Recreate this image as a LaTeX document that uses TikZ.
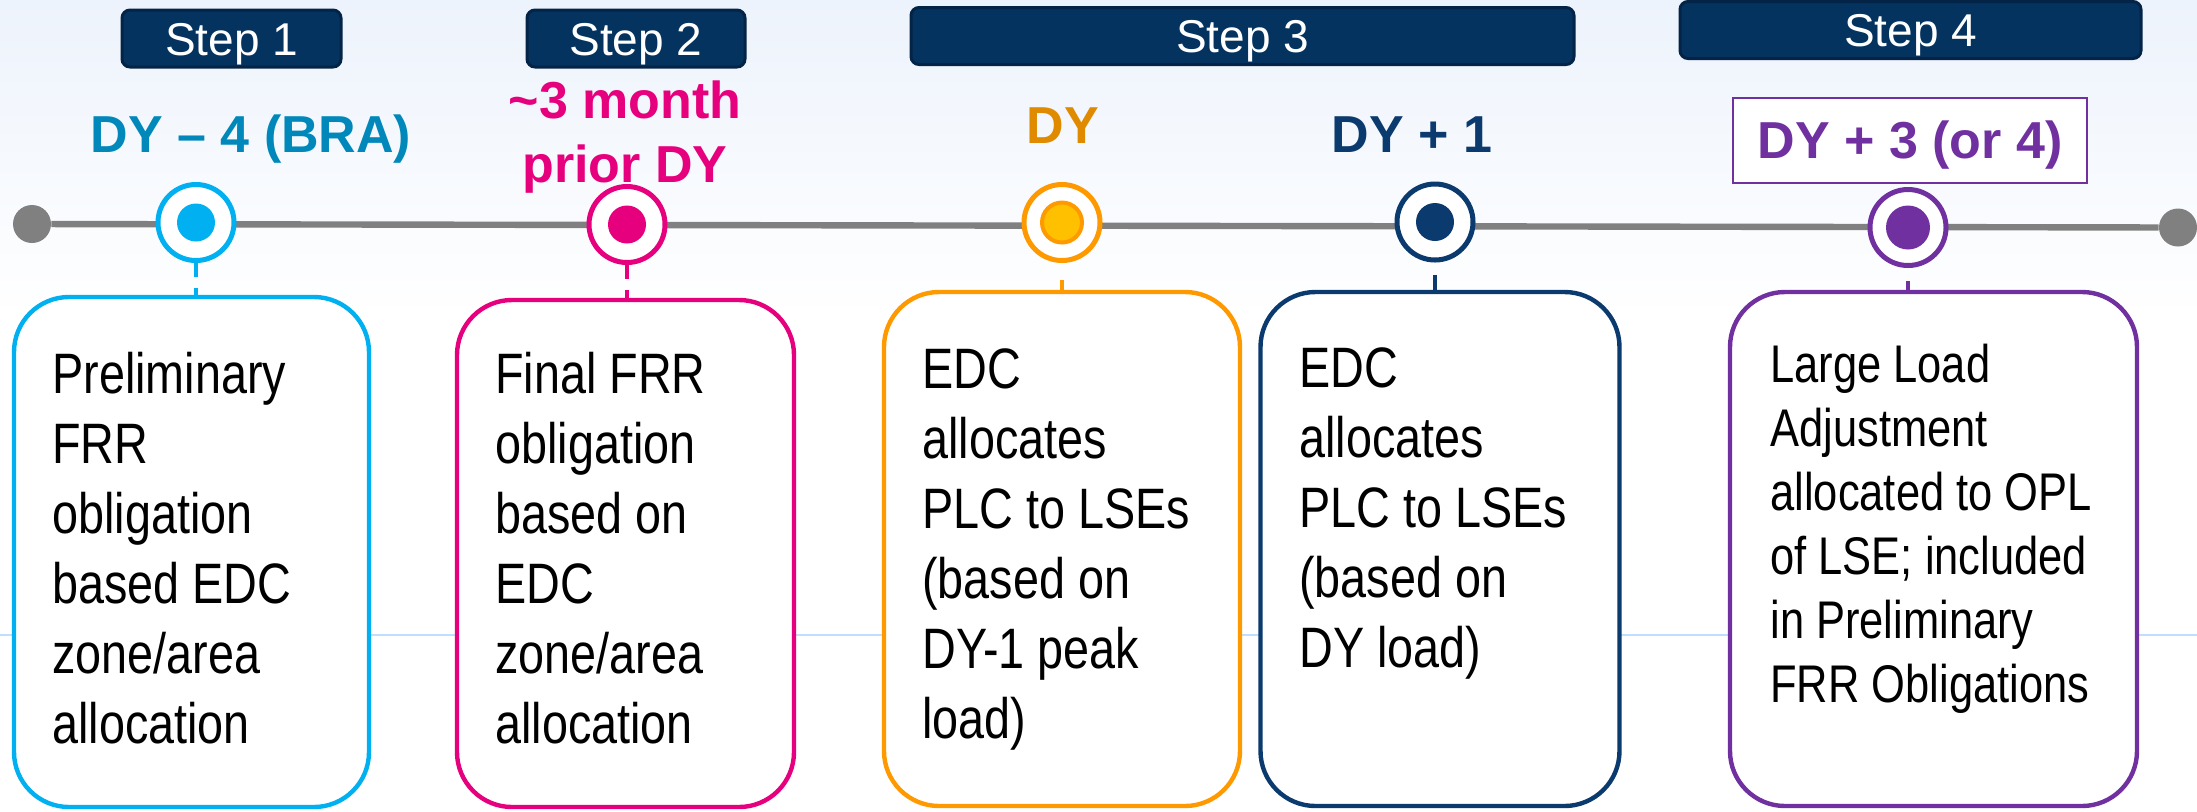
\documentclass[tikz,border=0pt]{standalone}
\usepackage{fontspec}
\setmainfont{Liberation Sans}
\newfontfamily\narrowfont[FakeStretch=0.82]{Liberation Sans}
\definecolor{cyanc}{HTML}{00B0F0}
\definecolor{magc}{HTML}{E6007E}
\definecolor{orc}{HTML}{FF9900}
\definecolor{yelc}{HTML}{FFC000}
\definecolor{dyor}{HTML}{E08A00}
\definecolor{navyc}{HTML}{0B3A6E}
\definecolor{stepfill}{HTML}{05335F}
\definecolor{stepborder}{HTML}{032447}
\definecolor{purc}{HTML}{7030A0}
\definecolor{lonecol}{HTML}{0088BB}
\definecolor{grayc}{HTML}{808080}
\definecolor{lightline}{HTML}{BFDFFF}
\definecolor{bgtop}{HTML}{EDF3FC}
\begin{document}
\begin{tikzpicture}[x=0.5pt,y=-0.5pt,
  stepbox/.style={draw=stepborder, fill=stepfill, line width=1.5pt, rounded corners=4pt,
    text=white, font=\fontsize{23}{27}\selectfont, text height=16.5pt, text depth=0pt,
    inner sep=0pt, minimum height=28.5pt},
  ring/.style={circle, fill=white, line width=2.5pt, minimum size=38pt, inner sep=0pt},
  dot/.style={circle, inner sep=0pt, minimum size=19pt},
  enddot/.style={circle, fill=grayc, inner sep=0pt, minimum size=19pt},
  infobox/.style={rounded corners=27.5pt, line width=2.2pt, fill=white, inner sep=0pt},
  boxtext/.style={anchor=base west, align=left, inner sep=0pt,
    font=\narrowfont\fontsize{28.5}{35}\selectfont},
  datelabel/.style={font=\bfseries\fontsize{26}{32}\selectfont, anchor=base,
    inner sep=0pt, align=center},
  stub/.style={line width=2pt}
]
\useasboundingbox (0,0) rectangle (2197,811);
% background
\fill[white] (0,0) rectangle (2197,811);
\shade[top color=bgtop, bottom color=white] (0,0) rectangle (2197,320);
\draw[lightline, line width=1.2pt] (0,635) -- (2197,635);

% timeline
\node[enddot] (e1) at (32,224) {};
\node[enddot] (e2) at (2178,227.5) {};
\draw[grayc, line width=3.2pt] (e1) -- (e2);

% markers
\node[ring, draw=cyanc] (m1) at (196,222.5) {};
\node[dot, fill=cyanc] (d1) at (m1) {};
\node[ring, draw=magc] (m2) at (627,224.5) {};
\node[dot, fill=magc] (d2) at (m2) {};
\node[ring, draw=orc] (m3) at (1062,222.5) {};
\node[dot, fill=yelc, draw=orc, line width=2pt, minimum size=20pt] (d3) at (m3) {};
\node[ring, draw=navyc] (m4) at (1435,222) {};
\node[dot, fill=navyc] (d4) at (m4) {};
\node[ring, draw=purc] (m5) at (1908,227.5) {};
\node[dot, fill=purc, minimum size=22pt] (d5) at (m5) {};

% info boxes
\node[infobox, draw=cyanc, minimum width=177.5pt, minimum height=255pt] (b1) at (191.5,552) {};
\node[infobox, draw=magc, minimum width=168.5pt, minimum height=253.5pt] (b2) at (625.5,553.5) {};
\node[infobox, draw=orc, minimum width=178pt, minimum height=257pt] (b3) at (1062,549) {};
\node[infobox, draw=navyc, minimum width=179.5pt, minimum height=257pt] (b4) at (1440,549) {};
\node[infobox, draw=purc, minimum width=203.5pt, minimum height=257pt] (b5) at (1933.5,549) {};

% box texts (anchored at the baseline of the last line)
\node[boxtext] (t1) at (52,743) {Preliminary\\FRR\\obligation\\based EDC\\zone/area\\allocation};
\node[boxtext] (t2) at (495,743) {Final FRR\\obligation\\based on\\EDC\\zone/area\\allocation};
\node[boxtext] (t3) at (922,738) {EDC\\allocates\\PLC to LSEs\\(based on\\DY-1 peak\\load)};
\node[boxtext] (t4) at (1299,667) {EDC\\allocates\\PLC to LSEs\\(based on\\DY load)};
\node[boxtext, font=\narrowfont\fontsize{26.5}{32}\selectfont] (t5) at (1770,702)
  {Large Load\\Adjustment\\allocated to OPL\\of LSE; included\\in Preliminary\\FRR Obligations};

% stubs
\draw[stub, cyanc, dash pattern=on 7pt off 5.5pt] (m1.south) -- (m1.south |- b1.north);
\draw[stub, magc, dash pattern=on 7pt off 5.5pt] (m2.south) -- (m2.south |- b2.north);
\draw[stub, orc] ([yshift=-8.5pt]m3.south) -- (m3.south |- b3.north);
\draw[stub, navyc] ([yshift=-6pt]m4.south) -- (m4.south |- b4.north);
\draw[stub, purc] ([yshift=-6.5pt]m5.south) -- (m5.south |- b5.north);

% date labels
\node[datelabel, text=lonecol] (l1) at (251,152) {DY – 4 (BRA)};
\node[datelabel, text=magc] (l2) at (625,182) {\textasciitilde3 month\\prior DY};
\node[datelabel, text=dyor] (l3) at (1063,143) {DY};
\node[datelabel, text=navyc] (l4) at (1412,152) {DY + 1};
\node[draw=purc, line width=1pt, fill=white, font=\bfseries\fontsize{26}{32}\selectfont,
  text=purc, text height=18.6pt, text depth=0pt, inner sep=0pt,
  minimum width=177pt, minimum height=42.5pt] (l5) at (1910,140) {DY + 3 (or 4)};

% step boxes
\node[stepbox, minimum width=109.5pt] (s1) at (231.5,38.5) {Step 1};
\node[stepbox, minimum width=109pt] (s2) at (636,38.5) {Step 2};
\node[stepbox, minimum width=331.5pt] (s3) at (1242.5,36) {Step 3};
\node[stepbox, minimum width=230.5pt] (s4) at (1910.5,30) {Step 4};
\end{tikzpicture}
\end{document}
